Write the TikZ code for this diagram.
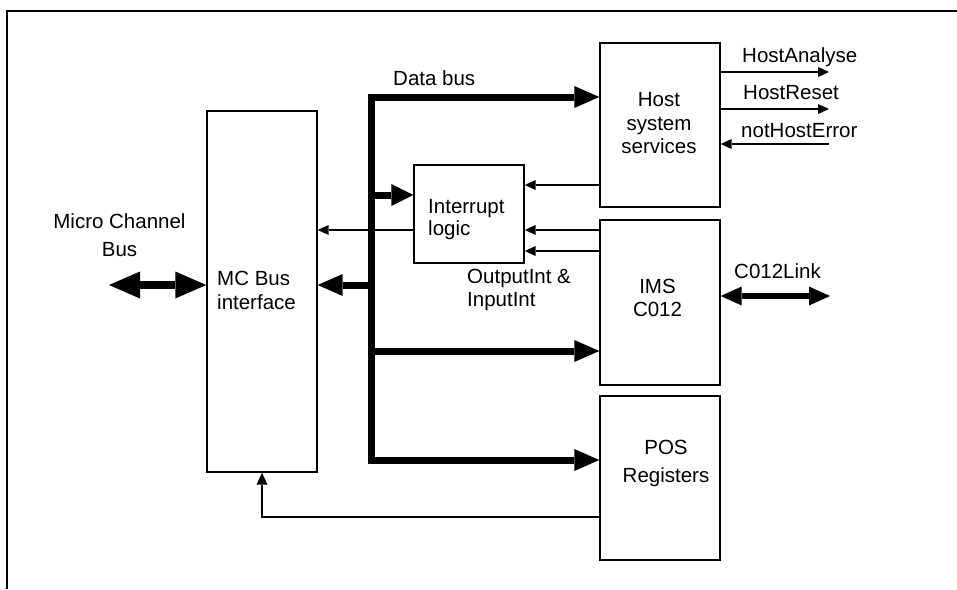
\documentclass[tikz,border=0pt]{standalone}
\usepackage{fontspec}
\setmainfont{Liberation Sans}
\usetikzlibrary{arrows.meta}
\begin{document}
\begin{tikzpicture}[x=1pt,y=-1pt,
  box/.style={draw, line width=1.4pt, inner sep=0pt},
  txt/.style={inner sep=0pt, anchor=base, font=\fontsize{20.5}{24}\selectfont},
  txtl/.style={txt, anchor=base west},
  thinarrow/.style={line width=1.3pt, -{Triangle[length=11pt,width=10pt,line width=0pt]}},
  bus/.style={line width=7pt, line join=miter},
  bushead/.style={-{Triangle[length=25pt,width=22pt,line width=0pt]}},
]
\useasboundingbox (0,0) rectangle (957,589);
% frame
\draw[line width=1.5pt, line join=miter] (7,589) -- (7,11) -- (957,11);

% boxes
\node[box, minimum width=110pt, minimum height=361pt] (mc)   at (262,291.5) {};
\node[box, minimum width=110pt, minimum height=98pt]  (int)  at (469,214) {};
\node[box, minimum width=120pt, minimum height=164pt] (host) at (660,125) {};
\node[box, minimum width=120pt, minimum height=165pt] (ims)  at (660,302.5) {};
\node[box, minimum width=120pt, minimum height=164pt] (pos)  at (660,478) {};

% box texts
\node[txtl] (mct1) at (217,285) {MC Bus};
\node[txtl] (mct2) at (217,309) {interface};
\node[txtl] (intt1) at (428,213) {Interrupt};
\node[txtl] (intt2) at (428,235) {logic};
\node[txt] (hostt1) at (659,106) {Host};
\node[txt] (hostt2) at (659,130) {system};
\node[txt] (hostt3) at (659,153) {services};
\node[txt] (imst1) at (657.5,293) {IMS};
\node[txt] (imst2) at (657.5,316) {C012};
\node[txt] (post1) at (666,454) {POS};
\node[txt] (post2) at (666,482) {Registers};

% labels
\node[txt] (mcbl1) at (119.5,228) {Micro Channel};
\node[txt] (mcbl2) at (119.5,256) {Bus};
\node[txtl] (dbl) at (393,85) {Data bus};
\node[txtl] (oil1) at (467,283) {OutputInt \&};
\node[txtl] (oil2) at (467,306) {InputInt};
\node[txtl] (hal) at (742,62) {HostAnalyse};
\node[txtl] (hrl) at (743,99) {HostReset};
\node[txtl] (hel) at (741,137) {notHostError};
\node[txtl] (cll) at (734,278) {C012Link};

% data bus
\coordinate (btop) at (371,97);
\coordinate (b1) at (371,195);
\coordinate (b2) at (371,285);
\coordinate (b3) at (371,351);
\coordinate (bbot) at (371,460);
\draw[bus, {Triangle[length=25pt,width=22pt,line width=0pt]}-{Triangle[length=25pt,width=22pt,line width=0pt]}]
  (host.west |- btop) -- (btop) -- (bbot) -- (pos.west |- bbot);
\draw[bus, bushead] (b3) -- (ims.west |- b3);
\draw[bus, bushead] (b2) -- (mc.east |- b2);
\draw[bus, -{Triangle[length=22pt,width=22pt,line width=0pt]}] (b1) -- (int.west |- b1);

% micro channel bus
\coordinate (mcb) at (109,285);
\draw[line width=8pt, {Triangle[length=31pt,width=27pt,line width=0pt]}-{Triangle[length=31pt,width=27pt,line width=0pt]}]
  (mcb) -- (mc.west |- mcb);

% C012 link
\coordinate (cl) at (830,296);
\draw[line width=6pt, {Triangle[length=21pt,width=19pt,line width=0pt]}-{Triangle[length=21pt,width=19pt,line width=0pt]}]
  (ims.east |- cl) -- (cl);

% thin signals
\draw[thinarrow] (host.west |- 0,185) -- (int.east |- 0,185);
\draw[thinarrow] (ims.west |- 0,230) -- (int.east |- 0,230);
\draw[thinarrow] (ims.west |- 0,251) -- (int.east |- 0,251);
\draw[thinarrow] (int.west |- 0,230) -- (mc.east |- 0,230);

\coordinate (ha) at (829,72);
\coordinate (hr) at (829,109);
\coordinate (he) at (829,144);
\draw[thinarrow] (host.east |- ha) -- (ha);
\draw[thinarrow] (host.east |- hr) -- (hr);
\draw[thinarrow] (he) -- (host.east |- he);

\draw[line width=1.3pt, -{Triangle[length=12pt,width=11pt,line width=0pt]}] (pos.west |- 0,517) -| (mc.south);
\end{tikzpicture}
\end{document}
